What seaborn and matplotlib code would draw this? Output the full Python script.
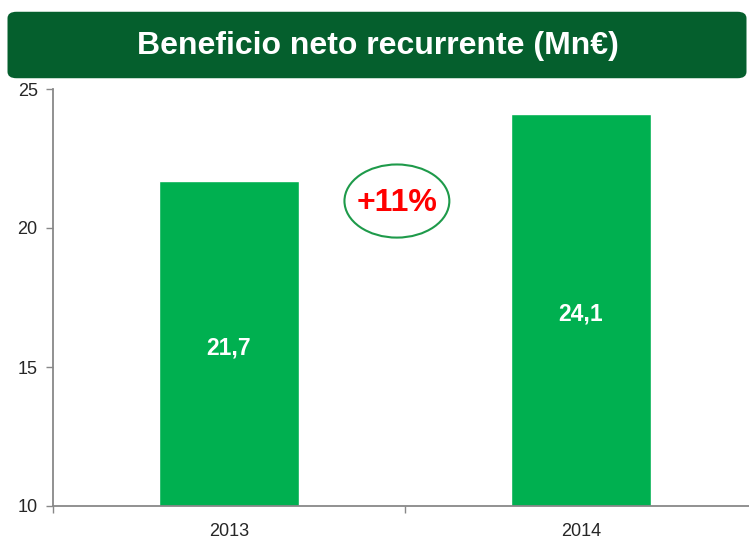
#!/usr/bin/env python3

import pandas as pd
import seaborn as sns
from matplotlib import pyplot as plt
from matplotlib.patches import Ellipse, FancyBboxPatch

years = ["2013", "2014"]
profit = [21.7, 24.1]
labels = ["21,7", "24,1"]
title = "Beneficio neto recurrente (Mn€)"
y_ticks = [10, 15, 20, 25]


def main():
    sns.set_style("white")
    plt.rcParams["font.family"] = ["Liberation Sans", "DejaVu Sans"]

    df = pd.DataFrame({"Year": years, "Profit": profit})

    fig = plt.figure(figsize=(7.49, 5.39), dpi=100)
    ax = fig.add_axes([53 / 749, 33 / 539, 704 / 749, 417 / 539])

    sns.barplot(df, x="Year", y="Profit", color="#00B050", saturation=1, width=0.4, ax=ax)

    ax.set_ylim(10, 25)
    ax.set_xlim(-0.5, 1.5)
    ax.set_yticks(y_ticks)
    ax.set_xlabel("")
    ax.set_ylabel("")

    for spine in ["top", "right"]:
        ax.spines[spine].set_visible(False)
    for spine in ["left", "bottom"]:
        ax.spines[spine].set_color("#888888")
        ax.spines[spine].set_linewidth(1.3)

    ax.tick_params(axis="y", which="major", direction="out", length=5, width=1, color="#888888",
                   labelsize=13, pad=6, left=True)
    ax.tick_params(axis="x", which="major", length=0, labelsize=13, pad=12)
    ax.set_xticks([-0.5, 0.5, 1.5], minor=True)
    ax.tick_params(axis="x", which="minor", direction="out", length=5, width=1, color="#888888", bottom=True)

    for i, (v, lab) in enumerate(zip(profit, labels)):
        ax.text(i, (10 + v) / 2 - 0.15, lab, color="white", fontsize=16.5, fontweight="bold",
                ha="center", va="center")

    growth = round((profit[1] / profit[0] - 1) * 100)
    ax.add_patch(Ellipse((0.477, 20.97), 0.298, 2.63, facecolor="white", edgecolor="#1E9A4A",
                         linewidth=1.5, zorder=5))
    ax.text(0.477, 20.9, f"+{growth}%", color="#FF0000", fontsize=23, fontweight="bold",
            ha="center", va="center", zorder=6)

    banner = FancyBboxPatch((12 / 749, 1 - 75 / 539), 730 / 749, 60 / 539,
                            boxstyle="round,pad=0.006,rounding_size=0.012",
                            transform=fig.transFigure, facecolor="#055F2D", edgecolor="none")
    fig.patches.append(banner)
    fig.text(378 / 749, 1 - 46 / 539, title, color="white", fontsize=23, fontweight="bold",
             ha="center", va="center")

    plt.savefig("out.png", dpi=100)
    plt.close()


if __name__ == '__main__':
    main()
